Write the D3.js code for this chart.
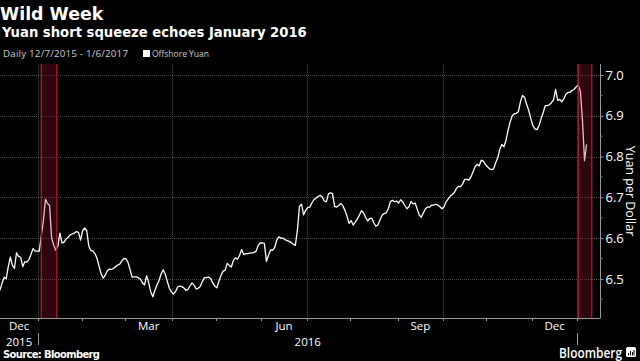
<!DOCTYPE html>
<html>
<head>
<meta charset="utf-8">
<script src="https://cdn.jsdelivr.net/npm/d3@7/dist/d3.min.js"></script>
<style>
  body { margin: 0; background: #000; }
  svg { display: block; }
</style>
</head>
<body>
<div id="chart"></div>
<script>
// offshore yuan per dollar, one value per weekday from 12/7/2015 to 1/6/2017
var yuan = [
  6.472, 6.490, 6.504, 6.500, 6.530, 6.553, 6.533, 6.526, 6.564, 6.555,
  6.553, 6.530, 6.542, 6.541, 6.547, 6.560, 6.574, 6.568, 6.568, 6.568,
  6.605, 6.642, 6.695, 6.685, 6.680, 6.600, 6.583, 6.570, 6.580, 6.612,
  6.588, 6.590, 6.598, 6.602, 6.608, 6.610, 6.612, 6.616, 6.614, 6.595,
  6.618, 6.625, 6.618, 6.580, 6.570, 6.568, 6.562, 6.550, 6.530, 6.512,
  6.502, 6.510, 6.520, 6.524, 6.523, 6.526, 6.530, 6.534, 6.536, 6.544,
  6.550, 6.549, 6.540, 6.522, 6.504, 6.505, 6.505, 6.503, 6.499, 6.490,
  6.485, 6.508, 6.490, 6.468, 6.456, 6.472, 6.485, 6.496, 6.512, 6.522,
  6.512, 6.494, 6.477, 6.468, 6.463, 6.469, 6.480, 6.482, 6.481, 6.478,
  6.472, 6.474, 6.483, 6.490, 6.484, 6.475, 6.477, 6.482, 6.494, 6.503,
  6.503, 6.504, 6.501, 6.490, 6.482, 6.478, 6.494, 6.508, 6.519, 6.521,
  6.538, 6.533, 6.529, 6.545, 6.552, 6.548, 6.558, 6.572, 6.560, 6.562,
  6.562, 6.563, 6.564, 6.565, 6.568, 6.582, 6.588, 6.588, 6.587, 6.543,
  6.558, 6.571, 6.570, 6.577, 6.595, 6.603, 6.600, 6.600, 6.596, 6.594,
  6.592, 6.589, 6.585, 6.582, 6.620, 6.678, 6.683, 6.657, 6.668, 6.675,
  6.676, 6.686, 6.694, 6.698, 6.702, 6.705, 6.701, 6.691, 6.689, 6.708,
  6.711, 6.709, 6.678, 6.676, 6.680, 6.685, 6.679, 6.668, 6.654, 6.636,
  6.643, 6.632, 6.639, 6.647, 6.656, 6.667, 6.662, 6.651, 6.642, 6.648,
  6.649, 6.637, 6.629, 6.632, 6.645, 6.656, 6.660, 6.662, 6.672, 6.689,
  6.693, 6.689, 6.691, 6.686, 6.694, 6.688, 6.680, 6.672, 6.677, 6.690,
  6.684, 6.686, 6.671, 6.656, 6.651, 6.662, 6.672, 6.676, 6.676, 6.681,
  6.681, 6.683, 6.681, 6.677, 6.672, 6.677, 6.689, 6.696, 6.703, 6.707,
  6.712, 6.722, 6.727, 6.726, 6.733, 6.744, 6.744, 6.742, 6.750, 6.762,
  6.775, 6.781, 6.777, 6.791, 6.789, 6.781, 6.775, 6.770, 6.768, 6.770,
  6.785, 6.797, 6.818, 6.830, 6.824, 6.840, 6.865, 6.885, 6.900, 6.905,
  6.906, 6.910, 6.935, 6.950, 6.945, 6.928, 6.913, 6.893, 6.876, 6.868,
  6.866, 6.876, 6.893, 6.908, 6.925, 6.925, 6.927, 6.932, 6.939, 6.965,
  6.938, 6.940, 6.934, 6.942, 6.953, 6.957, 6.958, 6.962, 6.965, 6.971,
  6.975, 6.960, 6.890, 6.790, 6.830
];

var firstDay = "2015-12-07";
var yTicks = [6.5, 6.6, 6.7, 6.8, 6.9, 7.0];
var yMinor = [6.45, 6.55, 6.65, 6.75, 6.85, 6.95];
var monthStarts = ["2016-01-01", "2016-02-01", "2016-03-01", "2016-04-01", "2016-05-01", "2016-06-01",
  "2016-07-01", "2016-08-01", "2016-09-01", "2016-10-01", "2016-11-01", "2016-12-01", "2017-01-01"];
var quarterStarts = ["2016-01-01", "2016-04-01", "2016-07-01", "2016-10-01", "2017-01-01"];
var monthLabels = [
  {name: "Dec", from: "2015-12-01", to: "2016-01-01"},
  {name: "Mar", from: "2016-03-01", to: "2016-04-01"},
  {name: "Jun", from: "2016-06-01", to: "2016-07-01"},
  {name: "Sep", from: "2016-09-01", to: "2016-10-01"},
  {name: "Dec", from: "2016-12-01", to: "2017-01-01"}
];
var yearLabels = [
  {name: "2015", from: "2015-12-01", to: "2016-01-01"},
  {name: "2016", from: "2016-01-01", to: "2017-01-01"}
];
var bands = [["2016-01-04", "2016-01-13"], ["2017-01-02", "2017-01-10"]];

var W = 640, H = 361;
var plot = {left: 0, right: 600, top: 64, bottom: 318};

var parse = d3.utcParse("%Y-%m-%d");
var start = parse(firstDay);

// weekday count from the first day, the chart runs on trading days
function idx(s) {
  var d = parse(s);
  if (d <= start) return 0;
  return d3.utcDay.range(start, d).filter(function(t) {
    var w = t.getUTCDay(); return w !== 0 && w !== 6;
  }).length;
}

var x = d3.scaleLinear().domain([0, 290.5]).range([plot.left, plot.right]);
var y = d3.scaleLinear().domain([6.404, 7.027]).range([plot.bottom, plot.top]);

var svg = d3.select("#chart").append("svg")
  .attr("width", W).attr("height", H)
  .style("background", "#000");

// header
svg.append("text").attr("x", 0).attr("y", 20)
  .style("font-family", "DejaVu Sans").style("font-weight", "bold").style("font-size", "17.4px")
  .attr("fill", "#fff").text("Wild Week");
svg.append("text").attr("x", 2).attr("y", 37)
  .style("font-family", "DejaVu Sans").style("font-weight", "bold").style("font-size", "13.2px")
  .attr("fill", "#fff").text("Yuan short squeeze echoes January 2016");
svg.append("text").attr("x", 3).attr("y", 57)
  .attr("textLength", 125).attr("lengthAdjust", "spacing")
  .style("font-family", "Open Sans").style("font-size", "9.8px")
  .attr("fill", "#ccc").text("Daily 12/7/2015 - 1/6/2017");
svg.append("rect").attr("x", 143).attr("y", 50).attr("width", 7).attr("height", 7).attr("fill", "#fff");
svg.append("text").attr("x", 152).attr("y", 57)
  .attr("textLength", 57).attr("lengthAdjust", "spacingAndGlyphs")
  .style("font-family", "Open Sans").style("font-size", "9.8px")
  .attr("fill", "#ccc").text("Offshore Yuan");

// grid
svg.append("g").selectAll("line").data(yTicks).enter().append("line")
  .attr("x1", plot.left).attr("x2", plot.right)
  .attr("y1", function(d) { return Math.round(y(d)) + 0.5; })
  .attr("y2", function(d) { return Math.round(y(d)) + 0.5; })
  .attr("stroke", "#4a4a4a").attr("stroke-dasharray", "1,1");

svg.append("g").selectAll("line").data(quarterStarts).enter().append("line")
  .attr("x1", function(d) { return Math.round(x(idx(d) - 0.5)) + 0.5; })
  .attr("x2", function(d) { return Math.round(x(idx(d) - 0.5)) + 0.5; })
  .attr("y1", plot.top).attr("y2", plot.bottom)
  .attr("stroke", "#4a4a4a").attr("stroke-dasharray", "1,1");

// the series
var line = d3.line()
  .x(function(d, i) { return x(i); })
  .y(function(d) { return y(d); });

svg.append("path").datum(yuan)
  .attr("d", line)
  .attr("fill", "none")
  .attr("stroke", "#fff")
  .attr("stroke-width", 1.3)
  .attr("stroke-linejoin", "round");

// highlighted weeks
var bg = svg.append("g").selectAll("g").data(bands).enter().append("g");
bg.append("rect")
  .attr("x", function(d) { return x(idx(d[0])); })
  .attr("width", function(d) { return x(idx(d[1]) + 0.5) - x(idx(d[0])); })
  .attr("y", plot.top).attr("height", plot.bottom - plot.top)
  .attr("fill", "rgba(170,20,45,0.28)");
bg.selectAll("line").data(function(d) { return [idx(d[0]), idx(d[1]) + 0.5]; }).enter().append("line")
  .attr("x1", function(d) { return x(d); }).attr("x2", function(d) { return x(d); })
  .attr("y1", plot.top).attr("y2", plot.bottom)
  .attr("stroke", "#a3182f").attr("stroke-width", 1.4);

// right axis
var yAxis = d3.axisRight(y).tickValues(yTicks).tickSize(3).tickPadding(2)
  .tickFormat(d3.format(".1f"));
var ya = svg.append("g").attr("transform", "translate(" + (plot.right + 0.5) + ",0)").call(yAxis);
ya.select(".domain").attr("stroke", "#999").attr("d", "M0," + plot.top + "V" + plot.bottom);
ya.selectAll(".tick line").attr("stroke", "#999");
ya.selectAll(".tick text").attr("fill", "#fff")
  .style("font-family", "Open Sans").style("font-size", "13px");
svg.append("g").selectAll("line").data(yMinor).enter().append("line")
  .attr("x1", plot.right).attr("x2", plot.right + 2.5)
  .attr("y1", function(d) { return y(d); }).attr("y2", function(d) { return y(d); })
  .attr("stroke", "#777");

svg.append("text")
  .attr("transform", "translate(626," + 191 + ") rotate(90)")
  .attr("text-anchor", "middle")
  .style("font-family", "Open Sans").style("font-size", "12.5px")
  .attr("fill", "#fff").text("Yuan per Dollar");

// bottom axis
svg.append("line").attr("x1", plot.left).attr("x2", plot.right + 0.5)
  .attr("y1", plot.bottom + 0.5).attr("y2", plot.bottom + 0.5).attr("stroke", "#999");
svg.append("g").selectAll("line").data(monthStarts).enter().append("line")
  .attr("x1", function(d) { return Math.round(x(idx(d) - 0.5)) + 0.5; })
  .attr("x2", function(d) { return Math.round(x(idx(d) - 0.5)) + 0.5; })
  .attr("y1", plot.bottom).attr("y2", plot.bottom + 3)
  .attr("stroke", "#999");

function midX(d) {
  var a = Math.max(0, idx(d.from) - 0.5), b = idx(d.to) - 0.5;
  return x((a + b) / 2);
}
svg.append("g").selectAll("text").data(monthLabels).enter().append("text")
  .attr("x", midX).attr("y", 330)
  .attr("text-anchor", "middle")
  .style("font-family", "Open Sans").style("font-size", "11.5px")
  .attr("fill", "#fff").text(function(d) { return d.name; });
svg.append("g").selectAll("text").data(yearLabels).enter().append("text")
  .attr("x", midX).attr("y", 345.5)
  .attr("text-anchor", "middle")
  .style("font-family", "Open Sans").style("font-size", "11.5px")
  .attr("fill", "#fff").text(function(d) { return d.name; });
svg.append("g").selectAll("line").data(["2016-01-01", "2017-01-01"]).enter().append("line")
  .attr("x1", function(d) { return Math.round(x(idx(d) - 0.5)) + 0.5; })
  .attr("x2", function(d) { return Math.round(x(idx(d) - 0.5)) + 0.5; })
  .attr("y1", 333).attr("y2", 345)
  .attr("stroke", "#999");

// footer
svg.append("text").attr("x", 3).attr("y", 358)
  .attr("textLength", 97).attr("lengthAdjust", "spacing")
  .style("font-family", "DejaVu Sans").style("font-weight", "bold").style("font-size", "10px")
  .attr("fill", "#fff").text("Source: Bloomberg");
svg.append("text").attr("x", 622).attr("y", 358).attr("text-anchor", "end")
  .attr("textLength", 63).attr("lengthAdjust", "spacingAndGlyphs")
  .style("font-family", "Open Sans").style("font-weight", 600).style("font-size", "14px")
  .attr("fill", "#fff").text("Bloomberg");
var logo = svg.append("g").attr("transform", "translate(626,347)");
logo.append("rect").attr("width", 10).attr("height", 10).attr("rx", 1.5).attr("fill", "#fff");
logo.selectAll("line").data([[2.5, 6], [4.5, 4], [6.5, 5], [8, 3]]).enter().append("line")
  .attr("x1", function(d) { return d[0]; }).attr("x2", function(d) { return d[0]; })
  .attr("y1", 8.5).attr("y2", function(d) { return d[1]; })
  .attr("stroke", "#000").attr("stroke-width", 1);
</script>
</body>
</html>
